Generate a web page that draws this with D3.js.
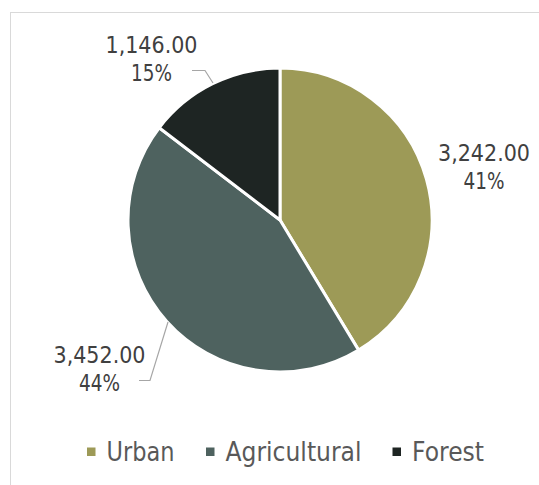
<!DOCTYPE html>
<html>
<head>
<meta charset="utf-8">
<script src="https://cdn.jsdelivr.net/npm/d3@7"></script>
<style>
  html, body { margin: 0; padding: 0; background: #fff; }
  svg { display: block; }
</style>
</head>
<body>
<svg id="chart" width="539" height="485"></svg>
<script>
// Land use areas
const categories = ["Urban", "Agricultural", "Forest"];
const values = [3242, 3452, 1146];
const colors = ["#9d9a57", "#4e625f", "#1e2523"];

const W = 539, H = 485;
const cx = 280, cy = 220, R = 152;
const font = "'DejaVu Sans', Tahoma, sans-serif";

const svg = d3.select("#chart");

// Chart frame (runs off the right and bottom edges)
svg.append("rect")
  .attr("x", 10.5).attr("y", 12.5)
  .attr("width", 560).attr("height", 500)
  .attr("fill", "#fff").attr("stroke", "#d9d9d9").attr("stroke-width", 1);

const total = d3.sum(values);
const pie = d3.pie().sort(null).value(d => d)(values);
const arc = d3.arc().innerRadius(0).outerRadius(R);

const g = svg.append("g").attr("transform", `translate(${cx},${cy})`);
g.selectAll("path.slice")
  .data(pie)
  .join("path")
  .attr("class", "slice")
  .attr("d", arc)
  .attr("fill", (d, i) => colors[i])
  .attr("stroke", "#fff")
  .attr("stroke-width", 3)
  .attr("stroke-linejoin", "round");

const fmt = d3.format(",.2f");
const pct = v => Math.round(v / total * 100) + "%";

// Label placement: centre x, first-line baseline, optional leader elbow
const labelPos = [
  { x: 484, y: 161, leader: null },
  { x: 99.5, y: 363, leader: [[139, 380.5], [150, 380.5], [168, 322]] },
  { x: 151.5, y: 53, leader: [[192, 70.5], [205, 70.5], [213, 83]] }
];

const labelText = (x, y, len, str) =>
  svg.append("text")
    .attr("x", x).attr("y", y)
    .attr("text-anchor", "middle")
    .attr("font-family", font)
    .attr("font-size", 22.5)
    .attr("fill", "#404040")
    .attr("textLength", len).attr("lengthAdjust", "spacingAndGlyphs")
    .text(str);

pie.forEach((d, i) => {
  const lp = labelPos[i];
  labelText(lp.x, lp.y, 92, fmt(values[i]));
  labelText(lp.x, lp.y + 27.5, 41, pct(values[i]));

  if (lp.leader) {
    svg.append("path")
      .attr("d", d3.line()(lp.leader))
      .attr("fill", "none")
      .attr("stroke", "#a6a6a6")
      .attr("stroke-width", 1.2);
  }
});

// Legend
const legendX = [87, 206, 392.5];
const legendW = [68, 136, 72];
const lg = svg.append("g");
categories.forEach((c, i) => {
  lg.append("rect")
    .attr("x", legendX[i]).attr("y", 447.5)
    .attr("width", 8.5).attr("height", 8.5)
    .attr("fill", colors[i]);
  lg.append("text")
    .attr("x", legendX[i] + 19.5).attr("y", 460.5)
    .attr("font-family", font)
    .attr("font-size", 26)
    .attr("fill", "#595959")
    .attr("textLength", legendW[i]).attr("lengthAdjust", "spacingAndGlyphs")
    .text(c);
});
</script>
</body>
</html>
